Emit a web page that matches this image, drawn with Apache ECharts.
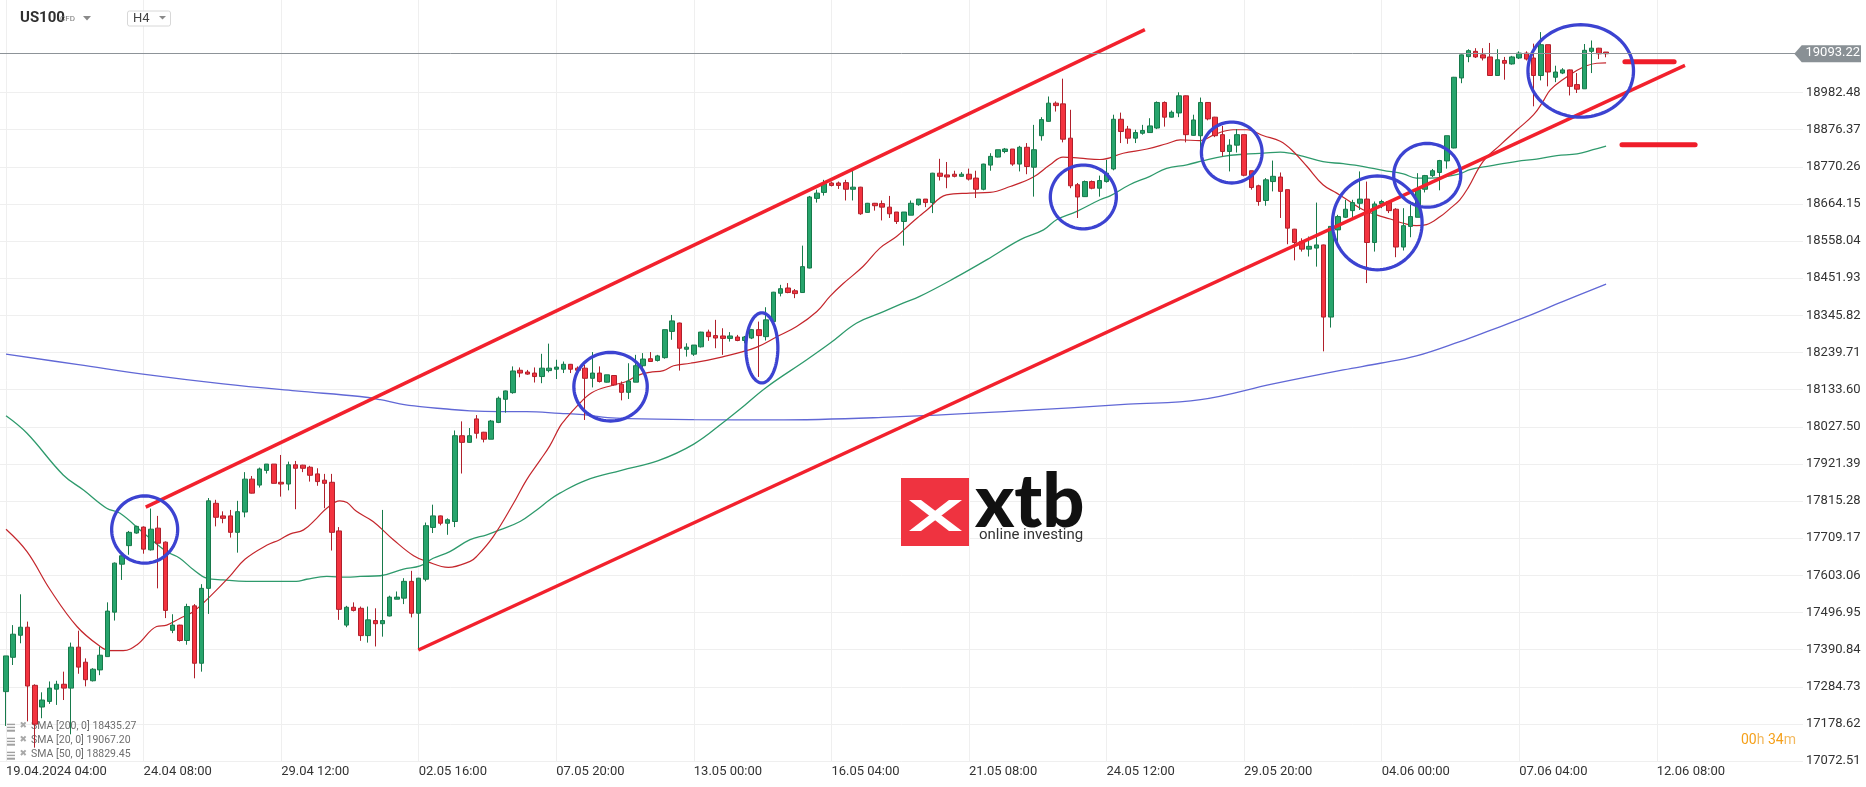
<!DOCTYPE html>
<html><head><meta charset="utf-8">
<script src="https://cdn.jsdelivr.net/npm/echarts@6/dist/echarts.min.js"></script>
<style>html,body{margin:0;padding:0;background:#fff;}#c{width:1866px;height:787px;}</style>
</head><body><div id="c"></div>
<script>
// ---------- DATA ----------
const instrument = 'US100';
const instrumentType = 'CFD';
const timeframe = 'H4';
// candles: [open, close, low, high], one per H4 bar starting 19.04.2024 04:00
const candles = [
[17271,17373,17173,17373],[17369,17435,17347,17461],[17432,17455,17409,17549],[17455,17287,17186,17471],[17289,17178,17111,17292],
[17227,17247,17195,17269],[17243,17281,17236,17300],[17278,17292,17233,17302],[17292,17281,17247,17328],[17281,17398,17149,17411],
[17398,17341,17322,17445],[17355,17305,17286,17366],[17302,17335,17300,17338],[17333,17375,17318,17400],[17371,17501,17371,17526],
[17498,17638,17474,17640],[17635,17659,17590,17664],[17688,17726,17662,17730],[17724,17743,17722,17745],[17741,17678,17665,17743],
[17676,17735,17674,17794],[17738,17695,17566,17773],[17698,17503,17481,17700],[17446,17461,17438,17492],[17461,17417,17414,17462],
[17417,17514,17405,17522],[17516,17352,17309,17521],[17352,17566,17328,17578],[17566,17816,17493,17824],[17809,17769,17743,17819],
[17773,17766,17752,17786],[17773,17726,17711,17790],[17726,17785,17668,17816],[17784,17878,17769,17898],[17878,17838,17837,17887],
[17861,17907,17854,17911],[17903,17921,17894,17921],[17921,17866,17866,17921],[17869,17864,17828,17947],[17864,17919,17846,17928],
[17919,17909,17792,17930],[17918,17909,17898,17919],[17912,17889,17871,17916],[17893,17871,17859,17909],[17875,17866,17795,17893],
[17869,17726,17674,17893],[17730,17506,17476,17741],[17461,17512,17455,17516],[17512,17503,17500,17526],[17509,17431,17416,17514],
[17431,17476,17411,17514],[17474,17465,17400,17509],[17465,17474,17428,17790],[17487,17541,17486,17545],[17535,17541,17535,17557],
[17538,17586,17521,17595],[17586,17495,17483,17616],[17495,17595,17390,17596],[17592,17745,17586,17754],[17740,17773,17724,17805],
[17773,17752,17746,17774],[17752,17762,17719,17766],[17757,18002,17741,18017],[18002,17983,17894,18043],[17983,18002,17982,18024],
[18050,18009,17994,18061],[18012,17992,17983,18013],[17992,18044,17992,18047],[18040,18109,18038,18114],[18106,18130,18068,18131],
[18125,18187,18122,18200],[18189,18181,18169,18197],[18184,18178,18176,18190],[18181,18171,18154,18197],[18171,18195,18152,18236],
[18188,18195,18183,18265],[18192,18198,18164,18219],[18192,18206,18181,18214],[18206,18192,18181,18207],[18195,18189,18185,18200],
[18195,18166,18047,18205],[18166,18181,18140,18241],[18181,18157,18154,18200],[18155,18176,18154,18176],[18174,18147,18145,18175],
[18149,18126,18103,18157],[18126,18158,18107,18209],[18155,18202,18155,18233],[18202,18221,18190,18238],[18222,18214,18213,18241],
[18217,18230,18214,18233],[18225,18305,18222,18305],[18300,18330,18276,18347],[18324,18252,18188,18325],[18249,18255,18228,18266],
[18235,18261,18230,18261],[18256,18298,18254,18299],[18298,18285,18273,18305],[18288,18281,18252,18333],[18287,18280,18233,18309],
[18280,18287,18271,18298],[18284,18274,18272,18290],[18274,18284,18266,18287],[18281,18305,18278,18307],[18305,18288,18170,18328],
[18285,18333,18274,18369],[18328,18412,18325,18413],[18409,18422,18400,18433],[18424,18411,18409,18438],[18416,18408,18395,18421],
[18411,18485,18410,18545],[18481,18684,18480,18687],[18680,18695,18668,18705],[18697,18722,18688,18733],[18724,18717,18714,18728],
[18724,18717,18707,18728],[18725,18706,18674,18733],[18706,18712,18674,18760],[18712,18636,18633,18713],[18640,18666,18639,18667],
[18666,18659,18645,18667],[18665,18655,18617,18674],[18655,18636,18624,18687],[18641,18614,18607,18641],[18614,18641,18545,18641],
[18632,18666,18632,18674],[18662,18678,18659,18678],[18678,18668,18655,18678],[18668,18752,18638,18753],[18752,18743,18731,18793],
[18747,18741,18709,18784],[18749,18743,18740,18759],[18743,18749,18742,18755],[18749,18735,18731,18765],[18738,18706,18681,18759],
[18706,18778,18703,18779],[18775,18800,18759,18809],[18798,18819,18797,18819],[18814,18821,18809,18824],[18821,18778,18773,18821],
[18778,18826,18757,18830],[18826,18771,18749,18838],[18769,18819,18685,18890],[18859,18905,18845,18912],[18900,18952,18899,18971],
[18952,18945,18928,18957],[18950,18849,18840,19022],[18852,18716,18709,18933],[18719,18684,18624,18724],[18685,18728,18684,18731],
[18728,18709,18706,18731],[18709,18731,18685,18745],[18728,18752,18725,18790],[18764,18906,18760,18919],[18906,18871,18838,18925],
[18878,18852,18836,18887],[18852,18868,18838,18876],[18866,18874,18862,18890],[18868,18887,18868,18909],[18881,18954,18878,18957],
[18954,18912,18885,18957],[18912,18926,18911,18931],[18924,18973,18912,18983],[18973,18862,18840,18974],[18860,18904,18859,18919],
[18859,18954,18821,18968],[18954,18907,18903,18955],[18912,18859,18855,18913],[18862,18814,18800,18887],[18814,18832,18757,18849],
[18832,18862,18811,18878],[18862,18746,18743,18862],[18759,18711,18705,18759],[18716,18671,18659,18719],[18674,18733,18659,18738],
[18728,18743,18700,18788],[18741,18700,18624,18754],[18705,18595,18549,18705],[18592,18554,18503,18593],[18557,18535,18528,18566],
[18535,18543,18514,18571],[18538,18547,18485,18668],[18547,18341,18243,18548],[18341,18600,18311,18600],[18590,18628,18543,18633],
[18626,18649,18624,18676],[18645,18668,18626,18676],[18666,18678,18647,18757],[18678,18554,18438,18728],[18554,18664,18528,18671],
[18665,18671,18652,18676],[18671,18645,18638,18672],[18649,18541,18512,18652],[18541,18602,18531,18652],[18600,18628,18569,18662],
[18626,18705,18626,18752],[18706,18745,18697,18747],[18745,18759,18741,18764],[18754,18788,18703,18790],[18787,18859,18765,18859],
[18824,19026,18823,19027],[19024,19090,19009,19091],[19085,19102,19069,19106],[19100,19084,19081,19109],[19090,19081,19074,19109],
[19084,19031,19031,19124],[19031,19076,19031,19106],[19074,19066,19019,19084],[19064,19084,19062,19087],[19081,19095,19078,19100],
[19095,19078,19074,19100],[19081,19031,18943,19122],[19031,19119,19017,19155],[19119,19041,19000,19119],[19026,19041,19012,19059],
[19038,19047,19035,19052],[19047,19000,18974,19048],[19005,18992,18981,19038],[18993,19103,18993,19121],[19100,19109,19038,19131],
[19109,19093,19078,19110],[19098,19093.22,19083,19098]
];
// moving averages: [bar index, value]
const sma20 = [[0,17735],[2.9,17671],[6.1,17562],[9.8,17457],[13,17400],[14.4,17388],[16.2,17388],[18.1,17405],[20.8,17457],[22.2,17461],[24,17480],[25.9,17500],[28.2,17543],[30.9,17600],[33,17649],[36,17689],[37.8,17705],[39.2,17721],[41.1,17733],[42.9,17766],[44.3,17795],[46.1,17816],[47.1,17811],[48.4,17786],[50.7,17757],[53.5,17705],[56.3,17659],[58.1,17643],[61.1,17626],[64.1,17643],[65,17657],[67.3,17714],[70.1,17809],[71.9,17876],[73.8,17933],[75.1,17973],[76.5,18028],[77.2,18047],[78.8,18085],[80.9,18125],[83.9,18147],[85.7,18157],[87.1,18173],[88.9,18183],[90.8,18188],[92.2,18202],[94.5,18209],[96.8,18217],[99.1,18228],[101.4,18240],[103.7,18255],[106.4,18284],[109.2,18314],[112,18357],[113.8,18400],[115.6,18436],[118.4,18486],[120.7,18538],[123,18571],[124.9,18607],[126.2,18630],[127.2,18647],[129.9,18690],[133.1,18695],[135.9,18697],[138.7,18714],[141.9,18741],[144.2,18776],[146,18798],[148.3,18795],[151.1,18791],[154.3,18809],[157.6,18821],[160.3,18836],[162.2,18847],[164.9,18845],[167.2,18865],[169.5,18876],[171.4,18876],[173.7,18859],[176,18843],[177.8,18814],[179.7,18771],[181.9,18719],[183.8,18695],[185.6,18671],[187.5,18647],[189.3,18633],[191.2,18621],[193,18609],[194.8,18602],[196.2,18605],[198.1,18628],[199.4,18650],[200.8,18676],[202,18712],[204,18785],[206.4,18833],[208.7,18876],[211,18919],[212.3,18957],[213.3,18990],[215.1,19020],[217,19046],[218.3,19059],[219.7,19066],[221,19067.2]];
const sma50 = [[0,18059],[2.9,18009],[7.9,17890],[10.7,17847],[13.9,17795],[15.7,17781],[19,17724],[22.2,17671],[24,17652],[25.9,17619],[27.7,17595],[30,17590],[33.2,17586],[36.9,17586],[40.1,17586],[41.5,17592],[44.3,17600],[47.1,17598],[48.9,17600],[51.7,17602],[54.9,17621],[57.2,17630],[59,17652],[61.3,17671],[64.1,17705],[66.4,17719],[68.2,17733],[71,17757],[73.3,17790],[75.1,17819],[76.5,17838],[80,17874],[85,17903],[90,17930],[95,17978],[99.5,18047],[101.4,18078],[105,18140],[110.6,18219],[113.8,18266],[117.5,18324],[120.7,18352],[123.9,18381],[126.2,18400],[131,18452],[135.5,18505],[140.1,18562],[143.3,18590],[145.1,18619],[147.9,18643],[151.1,18676],[152.5,18687],[155.2,18719],[158,18743],[160.3,18766],[163.1,18776],[165.4,18788],[168.1,18800],[170.9,18806],[173.7,18809],[176,18812],[177.3,18809],[179.2,18800],[181.9,18785],[184.7,18779],[187.5,18771],[190.2,18760],[193,18750],[194.8,18738],[196.7,18738],[198.5,18741],[200.8,18750],[202.2,18762],[205,18773],[208.7,18786],[211.4,18792],[214.2,18802],[217,18807],[219.2,18819],[221,18829.45]];
const sma200 = [[0,18235],[10,18205],[20,18175],[30,18150],[40,18130],[48.9,18114],[51.7,18105],[54.4,18093],[57.2,18085],[60.4,18079],[64.1,18073],[68.2,18071],[71.9,18071],[76.5,18066],[79.7,18062],[84.3,18052],[95,18048],[106,18047],[122,18055],[139,18072],[155,18092],[165,18105],[175,18150],[184.7,18190],[189.8,18209],[194.8,18230],[200.8,18271],[205,18303],[210,18342],[215,18385],[221,18435.27]];
const legendRows = [['SMA [200, 0]','18435.27'],['SMA [20, 0]','19067.20'],['SMA [50, 0]','18829.45']];
const lastPrice = 19093.22;
const xTickIndex = [0,19,38,57,76,95,114,133,152,171,190,209,228];
const xTickLabels = ['19.04.2024 04:00','24.04 08:00','29.04 12:00','02.05 16:00','07.05 20:00','13.05 00:00','16.05 04:00','21.05 08:00','24.05 12:00','29.05 20:00','04.06 00:00','07.06 04:00','12.06 08:00'];
const yTickLabels = ['17072.51','17178.62','17284.73','17390.84','17496.95','17603.06','17709.17','17815.28','17921.39','18027.50','18133.60','18239.71','18345.82','18451.93','18558.04','18664.15','18770.26','18876.37','18982.48'];
// drawn annotations in data coordinates
const upperChannel = [[19.3,17798],[157.3,19162]];
const lowerChannel = [[56.95,17390],[231.9,19060]];
const levelLine1 = [[223.6,19070],[230.4,19070]];
const levelLine2 = [[223.2,18833],[233.3,18833]];
// ellipses: [centre bar, centre price, half width in bars, half height in price]
const ellipses = [[19.15,17734,4.56,96],[83.5,18142,5.07,98],[104.4,18253,2.21,100],[148.8,18684,4.56,91],[169.3,18811,4.19,87],[189.4,18610,6.19,134],[196.3,18746,4.63,91],[217.5,19044,7.29,132]];
const timerText = ['00','h ','34','m'];

// ---------- CHART ----------
const FONT = 'Roboto';
const chart = echarts.init(document.getElementById('c'), null, {renderer: 'canvas'});
const yMin = Number(yTickLabels[0]);
const yStep = (Number(yTickLabels[yTickLabels.length-1]) - yMin) / (yTickLabels.length - 1);
const ohlc = candles.map((c, i) => [i, c[0], c[1], c[2], c[3]]);

const option = {
  animation: false,
  backgroundColor: '#ffffff',
  grid: {left: 0, right: 63, top: 0, bottom: 25.9, containLabel: false},
  xAxis: {
    type: 'value', min: -0.83, max: 248.2,
    axisLine: {show: false}, axisTick: {show: false, customValues: xTickIndex},
    splitLine: {show: true, lineStyle: {color: '#efefef', width: 1}},
    axisLabel: {customValues: xTickIndex, align: 'left', margin: 4, color: '#333', fontSize: 13, fontFamily: FONT,
      formatter: v => { const k = xTickIndex.indexOf(Math.round(v)); return k >= 0 ? xTickLabels[k] : ''; }}
  },
  yAxis: {
    type: 'value', position: 'right', min: yMin, max: yMin + yStep * 20.49,
    axisLine: {show: false}, axisTick: {show: false, customValues: yTickLabels.map(Number)},
    splitLine: {show: true, lineStyle: {color: '#efefef', width: 1}},
    axisLabel: {customValues: yTickLabels.map(Number), margin: 3, color: '#333', fontSize: 13, fontFamily: FONT,
      formatter: v => { const l = yTickLabels.find(t => Math.abs(Number(t) - v) < 0.02); return l || ''; }}
  },
  series: [
    {type: 'line', name: 'sma200', data: sma200, showSymbol: false, smooth: 0.4, z: 1,
      lineStyle: {color: '#6168d6', width: 1.3}, silent: true},
    {type: 'line', name: 'sma50', data: sma50, showSymbol: false, smooth: 0.4, z: 1,
      lineStyle: {color: '#2e9a6c', width: 1.3}, silent: true},
    {type: 'line', name: 'sma20', data: sma20, showSymbol: false, smooth: 0.4, z: 1,
      lineStyle: {color: '#c4262c', width: 1.2}, silent: true},
    {type: 'candlestick', name: 'US100', data: ohlc, barWidth: 5, z: 2,
      itemStyle: {color: '#27a46c', color0: '#f3333f', borderColor: '#177a4b', borderColor0: '#b0202b', borderWidth: 1},
      markLine: {silent: true, symbol: ['none','none'], label: {show: false},
        lineStyle: {color: '#8d9398', width: 1, type: 'solid'}, data: [{yAxis: lastPrice}]}},
    {type: 'line', data: upperChannel, showSymbol: false, z: 3, silent: true, lineStyle: {color: '#f2212d', width: 3.4}},
    {type: 'line', data: lowerChannel, showSymbol: false, z: 3, silent: true, lineStyle: {color: '#f2212d', width: 3.4}},
    {type: 'line', data: levelLine1, showSymbol: false, z: 3, silent: true, clip: false, lineStyle: {color: '#ef1d2a', width: 5, cap: 'round'}},
    {type: 'line', data: levelLine2, showSymbol: false, z: 3, silent: true, clip: false, lineStyle: {color: '#ef1d2a', width: 5, cap: 'round'}},
    {type: 'custom', data: ellipses, dimensions: ['x','y','hw','hh'], encode: {x: 'x', y: 'y'}, z: 4, clip: false, silent: true,
      renderItem: (params, api) => {
        const c = api.coord([api.value(0), api.value(1)]);
        const e = api.coord([api.value(0) + api.value(2), api.value(1) + api.value(3)]);
        const rx = Math.abs(e[0] - c[0]), ry = Math.abs(e[1] - c[1]);
        const pts = [];
        for (let k = 0; k < 96; k++) { const a = k / 96 * Math.PI * 2; pts.push([c[0] + rx * Math.cos(a), c[1] + ry * Math.sin(a)]); }
        return {type: 'polygon', shape: {points: pts}, style: {fill: 'none', stroke: '#3c43d1', lineWidth: 3.3}};
      }}
  ]
};
chart.setOption(option);

// overlay graphics (header, legend, price tag, logo, timer)
const py = chart.convertToPixel({yAxisIndex: 0}, lastPrice);
const g = [];
// header
g.push({type: 'text', left: 20, top: 11, style: {text: instrument, font: 'bold 15px ' + FONT, fill: '#2f2f2f'}});
g.push({type: 'text', left: 60, top: 15, style: {text: instrumentType, font: '8px ' + FONT, fill: '#777'}});
g.push({type: 'polygon', shape: {points: [[83,16],[91,16],[87,20.5]]}, style: {fill: '#8a8a8a'}});
g.push({type: 'rect', shape: {x: 127.5, y: 11, width: 43, height: 15, r: 2}, style: {fill: '#fff', stroke: '#d8d8d8', lineWidth: 1}});
g.push({type: 'text', left: 133, top: 12, style: {text: timeframe, font: '13px ' + FONT, fill: '#444'}});
g.push({type: 'polygon', shape: {points: [[159,16],[166,16],[162.5,19.5]]}, style: {fill: '#8a8a8a'}});
// price tag
g.push({type: 'polygon', z: 100, shape: {points: [[1794.3, py],[1801.7, py - 8.5],[1861, py - 8.5],[1861, py + 8.5],[1801.7, py + 8.5]]}, style: {fill: '#899095'}});
g.push({type: 'text', z: 101, left: 1805.5, top: py - 7.5, style: {text: lastPrice.toFixed(2), font: '13px ' + FONT, fill: '#ffffff'}});
// legend rows
legendRows.forEach((r, k) => {
  const y = 727.7 + k * 14;
  g.push({type: 'rect', shape: {x: 7, y: y - 4, width: 8, height: 1.4}, style: {fill: '#a0a0a0'}});
  g.push({type: 'rect', shape: {x: 7, y: y - 1, width: 8, height: 1.4}, style: {fill: '#a0a0a0'}});
  g.push({type: 'rect', shape: {x: 7, y: y + 2, width: 8, height: 2}, style: {fill: '#a0a0a0'}});
  g.push({type: 'text', left: 19.5, top: y - 6.5, style: {text: '\u2716', font: '9px "DejaVu Sans"', fill: '#a8a8a8'}});
  g.push({type: 'text', left: 31, top: y - 6.5, style: {text: r[0] + ' ' + r[1], font: '10.5px ' + FONT, fill: '#6e6e6e'}});
});
// timer
g.push({type: 'text', left: 1741, top: 733, style: {
  text: '{n|' + timerText[0] + '}{u|' + timerText[1] + '}{n|' + timerText[2] + '}{u|' + timerText[3] + '}',
  rich: {n: {font: '14px ' + FONT, fill: '#f5a01a'}, u: {font: '14px ' + FONT, fill: '#f3b95e'}}}});
// logo
g.push({type: 'rect', shape: {x: 901, y: 478, width: 68, height: 68}, style: {fill: '#ef3340'}});
g.push({type: 'polygon', shape: {points: [[909,500],[921,500],[962,531],[949,531]]}, style: {fill: '#fff'}});
g.push({type: 'polygon', shape: {points: [[909,531],[921,531],[962,500],[949,500]]}, style: {fill: '#fff'}});
g.push({type: 'text', left: 975, top: 466, style: {text: 'xtb', font: '900 74px Lato', fill: '#111'}});
g.push({type: 'text', left: 979, top: 528, style: {text: 'online investing', font: '15px ' + FONT, fill: '#333'}});
chart.setOption({graphic: g});
</script>
</body></html>
